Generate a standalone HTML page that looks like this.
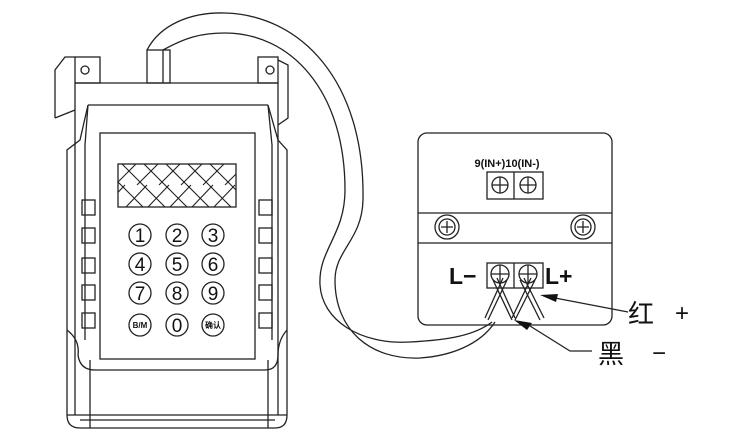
<!DOCTYPE html>
<html><head><meta charset="utf-8"><style>
html,body{margin:0;padding:0;background:#fff;}
svg{display:block;}
text{font-family:"Liberation Sans","Noto Sans CJK SC",sans-serif;fill:#111;}
</style></head><body>
<svg width="730" height="437" viewBox="0 0 730 437" xmlns="http://www.w3.org/2000/svg">
<defs>
<clipPath id="hc"><rect x="118" y="164" width="118" height="43"/></clipPath>
</defs>
<g fill="none" stroke="#222" stroke-width="1.3">
<path d="M147 50 C160 25 190 12 225 13 C300 15 365 80 363 200 C362 240 335 250 335 280 C335 330 370 360 420 358 C450 356 480 345 495 322"/>
<path d="M163 50 C185 38 200 33 225 33 C290 33 345 90 345 190 C345 235 318 250 320 285 C322 320 360 345 410 342 C450 340 475 335 492 322"/>
<path d="M55 118 L55 70 L65 57 L75 57"/>
<path d="M55 118 L75 110"/>
<rect x="75" y="57" width="25" height="26"/>
<circle cx="85" cy="70" r="4"/>
<rect x="258" y="57" width="20" height="26"/>
<circle cx="270" cy="70" r="4"/>
<path d="M278 60 L288 65 L288 118 L278 125"/>
<rect x="147" y="50" width="23" height="33"/>
<line x1="163" y1="50" x2="163" y2="83"/>
<line x1="75" y1="83" x2="278" y2="83"/>
<line x1="75" y1="83" x2="75" y2="150"/>
<line x1="278" y1="83" x2="278" y2="150"/>
<path d="M88 105 L268 105"/>
<path d="M88 105 L80 140 L67 150 L67 415 Q67 428 80 428 L275 428 Q287 428 287 415 L287 150 L278 140 L268 105"/>
<path d="M88 105 L85 145 L85 340"/>
<path d="M268 105 L272 145 L272 340"/>
<line x1="75" y1="150" x2="75" y2="415"/>
<line x1="278" y1="150" x2="278" y2="415"/>
<line x1="90" y1="360" x2="90" y2="428"/>
<line x1="268" y1="360" x2="268" y2="428"/>
<path d="M67 330 Q80 340 78 355 Q80 370 95 370 L265 370 Q278 370 278 355 Q278 340 287 330"/>
<line x1="67" y1="415" x2="287" y2="415"/>
<line x1="80" y1="420" x2="275" y2="420"/>
<rect x="100" y="133" width="155" height="226"/>
<g>
<rect x="82" y="200" width="13" height="15"/><rect x="82" y="228" width="13" height="15"/><rect x="82" y="258" width="13" height="15"/><rect x="82" y="285" width="13" height="15"/><rect x="82" y="313" width="13" height="15"/>
<rect x="259" y="200" width="13" height="15"/><rect x="259" y="228" width="13" height="15"/><rect x="259" y="258" width="13" height="15"/><rect x="259" y="285" width="13" height="15"/><rect x="259" y="313" width="13" height="15"/>
</g>
<rect x="118" y="164" width="118" height="43"/>
<g clip-path="url(#hc)" stroke-width="1.1">
<path d="M100 164 L143 207 M122 164 L165 207 M144 164 L187 207 M166 164 L209 207 M188 164 L231 207 M210 164 L253 207"/>
<path d="M125 185 L104 207 M147 185 L126 207 M169 185 L148 207 M191 185 L170 207 M213 185 L192 207 M235 185 L214 207 M257 185 L236 207"/>
<path d="M136 164 L115 185 M158 164 L137 185 M180 164 L159 185 M202 164 L181 185 M224 164 L203 185 M246 164 L225 185"/>
</g>
<g>
<circle cx="140" cy="235" r="11"/><circle cx="177" cy="235" r="11"/><circle cx="213" cy="235" r="11"/>
<circle cx="140" cy="264" r="11"/><circle cx="177" cy="264" r="11"/><circle cx="213" cy="264" r="11"/>
<circle cx="140" cy="293" r="11"/><circle cx="177" cy="293" r="11"/><circle cx="213" cy="293" r="11"/>
<circle cx="140" cy="325" r="11"/><circle cx="177" cy="325" r="11"/><circle cx="213" cy="325" r="11"/>
</g>
<rect x="418" y="133" width="194" height="192" rx="9"/>
<line x1="418" y1="213" x2="612" y2="213"/>
<line x1="418" y1="243" x2="612" y2="243"/>
<circle cx="447" cy="227" r="12"/><circle cx="447" cy="227" r="8"/>
<path d="M441 227 H453 M447 221 V233"/>
<circle cx="583" cy="227" r="12"/><circle cx="583" cy="227" r="8"/>
<path d="M577 227 H589 M583 221 V233"/>
<rect x="487" y="172" width="56" height="27"/>
<line x1="514" y1="172" x2="514" y2="199"/>
<circle cx="500" cy="185" r="8"/><path d="M492 185 H508 M500 177 V193"/>
<circle cx="528" cy="185" r="8"/><path d="M520 185 H536 M528 177 V193"/>
<rect x="487" y="263" width="56" height="25"/>
<line x1="514" y1="263" x2="514" y2="288"/>
<circle cx="500" cy="274" r="9"/><path d="M491 274 H509 M500 265 V283"/>
<circle cx="528" cy="274" r="9"/><path d="M519 274 H537 M528 265 V283"/>
<path d="M493 280 L512 320 M507 280 L488 320 M497 278 L515 318 M503 278 L485 318"/>
<path d="M520 280 L540 320 M535 280 L515 320 M524 278 L544 318 M531 278 L512 318"/>
<path d="M628 312 L555 298"/>
<path d="M592 351 L570 351 L530 326"/>
</g>
<polygon points="540,295 558,294 556,302" fill="#111"/>
<polygon points="514,320 532,323 527,330" fill="#111"/>
<g font-size="19" text-anchor="middle">
<text x="140" y="242">1</text><text x="177" y="242">2</text><text x="213" y="242">3</text>
<text x="140" y="271">4</text><text x="177" y="271">5</text><text x="213" y="271">6</text>
<text x="140" y="300">7</text><text x="177" y="300">8</text><text x="213" y="300">9</text>
<text x="177" y="332">0</text>
</g>
<text x="140" y="328" font-size="8" text-anchor="middle" font-weight="bold">B/M</text>
<text x="213" y="328" font-size="8" text-anchor="middle" font-weight="bold">确认</text>
<text x="507" y="167" font-size="11" text-anchor="middle" font-weight="bold" font-family="Liberation Mono, monospace">9(IN+)10(IN-)</text>
<text x="449" y="284" font-size="23" font-weight="bold">L−</text>
<text x="545" y="284" font-size="23" font-weight="bold">L+</text>
<text x="628" y="323" font-size="26">红</text>
<text x="675" y="321" font-size="24">+</text>
<text x="598" y="363" font-size="26">黑</text>
<text x="652" y="361" font-size="24">−</text>
</svg>
</body></html>
